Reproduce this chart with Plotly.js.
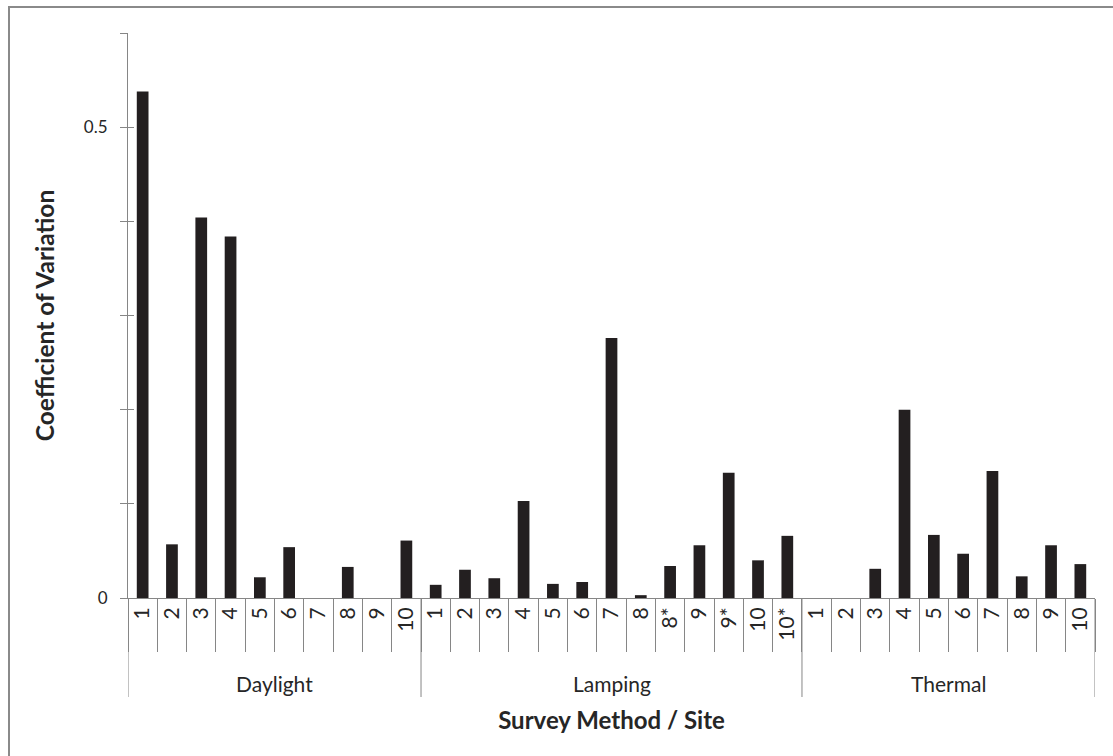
<!DOCTYPE html>
<html>
<head>
<meta charset="utf-8">
<script src="https://cdn.plot.ly/plotly-3.0.1.min.js"></script>
<style>
  html, body { margin: 0; padding: 0; background: #fff; }
  #wrap { position: relative; width: 1113px; height: 756px; overflow: hidden; }
  #chart { width: 1113px; height: 756px; }
  #frame { position: absolute; left: 8px; top: 6px; width: 1200px; height: 800px;
           border: 2px solid #8a8a8a; pointer-events: none; box-sizing: border-box; }
</style>
</head>
<body>
<div id="wrap">
  <div id="chart"></div>
  <div id="frame"></div>
</div>
<script>
// ---- data ----
const methods = ['Daylight', 'Lamping', 'Thermal'];

const daylightSites = ['1','2','3','4','5','6','7','8','9','10'];
const daylightCV    = [0.538, 0.057, 0.404, 0.384, 0.022, 0.054, 0, 0.033, 0, 0.061];

const lampingSites  = ['1','2','3','4','5','6','7','8','8*','9','9*','10','10*'];
const lampingCV     = [0.014, 0.030, 0.021, 0.103, 0.015, 0.017, 0.276, 0.003, 0.034, 0.056, 0.133, 0.040, 0.066];

const thermalSites  = ['1','2','3','4','5','6','7','8','9','10'];
const thermalCV     = [0, 0, 0.031, 0.200, 0.067, 0.047, 0.135, 0.023, 0.056, 0.036];

const yTickVals = [0, 0.1, 0.2, 0.3, 0.4, 0.5, 0.6];
const yTickText = ['0', '', '', '', '', '0.5', ''];

// ---- build ----
const siteLists = [daylightSites, lampingSites, thermalSites];
const cvLists = [daylightCV, lampingCV, thermalCV];

const ids = [], sites = [], values = [];
const groupSpans = []; // [startIndex, endIndex] per method
methods.forEach((m, gi) => {
  const start = ids.length;
  siteLists[gi].forEach((s, i) => {
    ids.push(m + ' ' + s);
    sites.push(s);
    values.push(cvLists[gi][i]);
  });
  groupSpans.push([start, ids.length - 1]);
});

const axisColor = '#868686';
const textColor = '#262626';
const font = 'Lato, "Open Sans", sans-serif';
const catFontSize = 21;

const traces = [
  {
    type: 'bar',
    x: ids,
    y: values,
    marker: { color: '#231f20', line: { width: 0 } },
    hoverinfo: 'x+y'
  },
  {
    type: 'scatter',
    mode: 'markers',
    x: ids,
    y: values,
    yaxis: 'y2',
    marker: { opacity: 0 },
    hoverinfo: 'skip',
    showlegend: false
  }
];

// group labels and group dividers below the axis
const annotations = groupSpans.map((span, gi) => ({
  text: methods[gi],
  xref: 'x', yref: 'paper',
  x: (span[0] + span[1]) / 2,
  y: 0,
  yanchor: 'middle',
  yshift: -85,
  showarrow: false,
  font: { family: font, size: catFontSize, color: textColor }
}));

const dividerPositions = groupSpans.map(s => s[0] - 0.5)
  .concat([groupSpans[groupSpans.length - 1][1] + 0.5]);
const shapes = dividerPositions.map(xp => ({
  type: 'line',
  xref: 'x', yref: 'paper',
  ysizemode: 'pixel', yanchor: 0,
  x0: xp, x1: xp, y0: 0, y1: -99,
  line: { color: axisColor, width: 1 }
}));

const layout = {
  width: 1113,
  height: 756,
  margin: { l: 128, r: 18, t: 33, b: 158 },
  paper_bgcolor: '#ffffff',
  plot_bgcolor: '#ffffff',
  showlegend: false,
  bargap: 0.6,
  font: { family: font, color: textColor },
  annotations: annotations,
  shapes: shapes,
  xaxis: {
    type: 'category',
    categoryorder: 'array',
    categoryarray: ids,
    tickmode: 'array',
    tickvals: ids,
    ticktext: sites,
    range: [-0.5, ids.length - 0.5],
    showline: true,
    linecolor: axisColor,
    linewidth: 1,
    ticks: 'outside',
    tickson: 'boundaries',
    ticklen: 53,
    tickcolor: axisColor,
    tickwidth: 1,
    tickangle: -90,
    showgrid: false,
    zeroline: false,
    automargin: false,
    tickfont: { family: font, size: catFontSize, color: textColor },
    title: {
      text: 'Survey Method / Site',
      font: { family: font, size: 24, color: textColor, weight: 'bold' },
      standoff: 72
    }
  },
  yaxis: {
    range: [0, 0.6],
    tickmode: 'array',
    tickvals: yTickVals,
    ticktext: yTickText,
    showline: true,
    linecolor: axisColor,
    linewidth: 1,
    ticks: 'outside',
    ticklen: 7,
    tickcolor: axisColor,
    ticklabelstandoff: 9,
    showgrid: false,
    zeroline: false,
    automargin: false,
    tickfont: { family: font, size: 17, color: textColor },
    title: {
      text: 'Coefficient of Variation',
      font: { family: font, size: 24.5, color: textColor, weight: 'bold' },
      standoff: 22
    }
  },
  yaxis2: {
    overlaying: 'y',
    range: [0, 0.6],
    tickmode: 'array',
    tickvals: yTickVals,
    showticklabels: false,
    showline: false,
    ticks: 'inside',
    ticklen: 6,
    tickcolor: axisColor,
    showgrid: false,
    zeroline: false,
    automargin: false
  }
};

Plotly.newPlot('chart', traces, layout, { displayModeBar: false, staticPlot: true });
</script>
</body>
</html>
